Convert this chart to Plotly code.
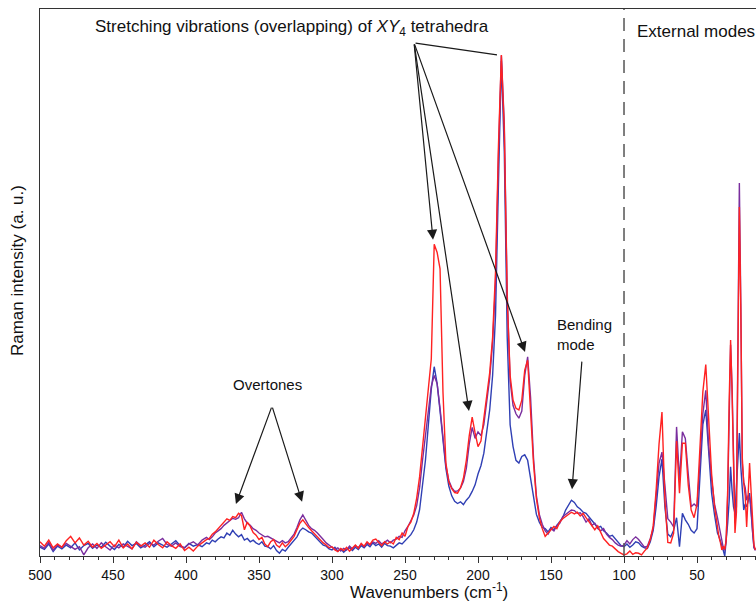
import plotly.graph_objects as go

# ---------------- data ----------------
# wavenumber grid (cm^-1), three segments of different spacing
x_noise = list(range(500, 385, -3))          # 500 ... 386
x_mid = list(range(384, 261, -2))            # 384 ... 262
x_peaks = list(range(260, 35, -2))           # 260 ... 36
x_low = list(range(35, 9, -1))               # 35 ... 10
wavenumber = x_noise + x_mid + x_peaks + x_low

red_noise = [2.6, 1.8, 2.9, 1.5, 2.2, 1.6, 2.8, 3.6, 2.4, 3.3, 2.0, 2.7, 1.6, 2.3, 1.4, 2.0, 2.6, 1.7, 2.9, 1.5,
             2.2, 1.3, 2.5, 1.8, 2.4, 1.6, 2.9, 2.1, 1.5, 2.6, 1.9, 1.4, 2.2, 1.0, 1.6, 0.9, 1.8, 2.4, 3.0]
blue_noise = [1.6, 1.2, 2.2, 0.8, 1.8, 1.3, 2.0, 1.5, 2.4, 1.1, 1.9, 2.3, 1.4, 2.0, 1.6, 2.5, 1.8, 1.2, 2.1, 1.6,
              2.7, 1.9, 2.3, 1.5, 2.0, 2.6, 1.7, 2.4, 2.0, 1.6, 2.2, 2.8, 1.9, 1.5, 2.3, 1.8, 2.1, 1.7, 2.4]
purple_noise = [1.9, 1.4, 2.5, 1.1, 2.0, 1.6, 2.3, 1.8, 1.2, 1.7, 0.2, 1.5, 2.2, 1.4, 2.4, 1.7, 1.1, 2.0, 1.5, 2.2,
                1.8, 1.3, 2.6, 1.9, 1.6, 2.3, 2.0, 2.7, 3.2, 2.1, 1.8, 2.4, 1.7, 1.5, 2.2, 2.6, 2.0, 2.9, 3.4]

red_mid = [3.2, 4.0, 4.4, 5.0, 5.4, 6.2, 6.8, 6.5, 7.2, 7.0, 7.8, 7.4, 4.8, 6.2, 5.4, 4.3, 3.8, 3.0, 3.4, 2.2,
           1.7, 2.6, 3.0, 2.0, 1.6, 2.4, 1.7, 2.2, 2.9, 3.6, 4.8, 6.0, 6.6, 5.8, 5.2, 4.6, 4.0, 3.4, 3.0, 2.4,
           2.0, 1.5, 1.7, 1.1, 0.8, 1.4, 1.0, 1.6, 0.9, 1.5, 2.0, 1.4, 2.3, 1.8, 2.6, 2.1, 2.9, 3.1, 2.4, 1.9,
           2.6, 2.2]
purple_mid = [3.0, 3.5, 4.2, 4.6, 5.0, 5.6, 6.0, 6.5, 6.9, 6.7, 7.0, 8.0, 6.8, 6.0, 5.6, 5.0, 4.7, 4.2, 3.8, 3.5,
              3.6, 3.3, 3.0, 2.6, 2.4, 2.8, 2.4, 2.6, 3.2, 4.0, 5.2, 6.6, 7.5, 6.4, 5.6, 5.0, 4.7, 4.2, 3.5, 3.0,
              2.4, 2.0, 1.7, 1.2, 1.5, 0.9, 1.4, 1.1, 1.8, 1.3, 1.9, 1.5, 2.2, 1.7, 2.4, 2.0, 2.6, 2.3, 2.8, 2.2,
              2.5, 2.9]
blue_mid = [2.2, 2.9, 2.6, 3.1, 3.5, 3.3, 4.2, 3.8, 4.7, 4.0, 3.5, 3.9, 2.9, 3.2, 2.6, 2.9, 2.4, 2.1, 2.6, 1.8,
            1.7, 1.3, 1.9, 1.0, 0.5, 1.2, 0.9, 1.6, 2.2, 3.0, 3.5, 4.6, 5.1, 4.8, 4.4, 4.2, 3.6, 2.9, 2.5, 2.0,
            1.8, 1.3, 1.1, 1.6, 0.9, 1.3, 0.7, 1.2, 1.5, 1.0, 1.6, 1.2, 1.9, 1.5, 2.1, 1.7, 2.4, 1.9, 2.2, 1.6,
            2.3, 1.9]

red_peaks = [2.6, 2.2, 3.4, 3.0, 4.2, 3.6, 5.4, 6.2, 7.8, 10.6, 14.5, 20.0, 25.5, 30.5, 36.0, 57.0, 55.5, 52.5, 30.0, 17.0,
             13.5, 12.3, 11.6, 11.5, 12.5, 14.2, 17.5, 22.0, 25.4, 22.5, 20.0, 21.0, 25.4, 29.0, 33.5, 40.0, 52.0, 75.0, 91.6, 78.0,
             47.0, 33.0, 28.5, 27.0, 26.7, 28.5, 34.0, 35.8, 27.0, 17.0, 10.5, 7.0, 5.0, 3.6, 4.2, 4.8, 5.4, 5.0, 6.2, 6.8,
             7.2, 7.6, 8.0, 7.7, 8.0, 7.3, 7.8, 7.0, 6.2, 5.4, 4.8, 5.5, 4.2, 3.2, 2.6, 2.0, 1.8, 1.2, 0.8, 0.5,
             0.2, 0.4, 0.9, 0.3, 0.6, 0.5, 0.2, 0.9, 1.5, 3.0, 5.5, 12.0, 20.5, 26.3, 10.2, 2.5, 2.4, 4.2, 21.0, 11.5,
             20.6, 20.6, 13.0, 8.4, 7.0, 9.5, 19.4, 30.0, 35.0, 24.0, 15.0, 9.0, 5.0]
purple_peaks = [2.4, 2.9, 3.1, 3.6, 3.4, 4.6, 5.4, 6.6, 7.5, 9.2, 12.5, 17.5, 22.0, 27.5, 31.0, 33.0, 31.5, 27.0, 21.0, 16.5,
                13.8, 12.5, 11.8, 11.9, 12.4, 13.6, 16.0, 20.5, 23.5, 21.5, 22.7, 22.0, 24.0, 28.0, 32.5, 39.0, 50.0, 73.0, 91.5, 79.0,
                48.0, 32.0, 27.5, 26.0, 25.2, 26.5, 33.0, 36.4, 29.0, 18.0, 11.0, 7.6, 5.8, 4.6, 4.0, 5.0, 4.6, 5.6, 6.0, 7.2,
                7.6, 8.0, 8.4, 8.3, 7.8, 7.9, 7.2, 6.2, 6.8, 5.6, 6.0, 5.0, 4.6, 5.0, 4.0, 3.4, 3.0, 2.4, 2.0, 1.8,
                2.0, 2.8, 2.2, 3.0, 3.5, 3.0, 2.2, 1.6, 1.8, 3.2, 5.0, 10.5, 17.0, 19.0, 12.6, 6.8, 6.2, 5.3, 23.6, 13.9,
                22.7, 21.5, 15.0, 9.0, 9.5, 9.0, 17.0, 26.0, 30.3, 20.0, 14.0, 9.5, 7.0]
blue_peaks = [1.8, 1.5, 2.0, 2.4, 2.2, 2.8, 3.3, 3.9, 4.8, 6.2, 8.5, 12.6, 17.5, 24.0, 30.5, 34.6, 31.5, 26.5, 20.5, 16.0,
              12.8, 11.0, 10.0, 9.6, 9.9, 9.4, 10.2, 10.8, 11.8, 13.0, 15.0, 16.5, 18.8, 22.5, 26.7, 33.0, 44.0, 68.0, 90.5, 74.0,
              40.0, 24.0, 20.0, 17.5, 17.0, 18.2, 18.5, 17.5, 14.0, 10.2, 7.6, 6.2, 5.2, 5.0, 4.4, 5.2, 4.8, 5.6, 6.3, 7.0,
              8.4, 9.4, 10.2, 9.8, 9.0, 8.6, 8.0, 7.8, 7.2, 6.4, 5.8, 5.2, 5.4, 4.6, 4.2, 3.6, 3.8, 3.2, 2.6, 1.9,
              1.7, 2.2, 1.6, 2.0, 2.6, 2.4, 1.8, 1.5, 1.4, 2.6, 4.7, 9.0, 14.5, 17.7, 9.0, 4.0, 3.5, 4.7, 7.0, 1.7,
              7.8, 6.6, 5.8, 4.7, 4.2, 5.0, 14.4, 24.0, 26.7, 18.0, 11.5, 7.5, 4.2]

red_low = [3.5, 2.5, 1.1, 1.8, 1.2, 3.0, 12.0, 28.0, 39.5, 30.0, 14.0, 4.2, 8.0, 35.0, 63.8, 45.0, 18.0, 13.3, 11.0, 5.3,
           12.0, 17.0, 12.0, 6.0, 2.0, 1.1]
purple_low = [5.5, 4.0, 2.4, 1.5, 1.0, 3.0, 11.0, 27.0, 38.6, 31.0, 15.0, 6.0, 9.0, 38.0, 68.2, 46.0, 17.0, 13.5, 12.5, 10.2,
              11.0, 10.8, 9.0, 4.5, 1.5, 1.0]
blue_low = [3.6, 2.8, 2.2, 1.0, 0.0, 2.4, 6.0, 10.0, 16.3, 12.0, 9.0, 7.8, 12.0, 18.0, 22.5, 16.3, 12.0, 8.4, 9.5, 9.0,
            10.0, 11.5, 8.0, 4.0, 1.6, 1.2]

red = red_noise + red_mid + red_peaks + red_low
purple = purple_noise + purple_mid + purple_peaks + purple_low
blue = blue_noise + blue_mid + blue_peaks + blue_low

tick_values = [500, 450, 400, 350, 300, 250, 200, 150, 100, 50]
boundary_wavenumber = 100

# ---------------- figure ----------------
FONT = "Liberation Sans, Arial, sans-serif"
fig = go.Figure()
fig.add_trace(go.Scatter(x=wavenumber, y=blue, mode="lines", line=dict(color="#2F3FB4", width=1.4), name="blue"))
fig.add_trace(go.Scatter(x=wavenumber, y=purple, mode="lines", line=dict(color="#7A2E9E", width=1.4), name="purple"))
fig.add_trace(go.Scatter(x=wavenumber, y=red, mode="lines", line=dict(color="#FF2222", width=1.4), name="red"))

fig.add_shape(type="line", x0=boundary_wavenumber, x1=boundary_wavenumber, y0=0, y1=1, xref="x", yref="paper",
              line=dict(color="#555555", width=1.5, dash="13px,8px"))

arrow_common = dict(xref="x", yref="y", axref="x", ayref="y", showarrow=True,
                    arrowcolor="#1a1a1a", arrowwidth=1.2, arrowsize=1.7, text="")
# stretching arrows (tail common point)
tail = (243.8, 93.8)
fig.add_annotation(x=187.0, y=91.6, ax=tail[0], ay=tail[1], arrowhead=0, **arrow_common)
fig.add_annotation(x=230.8, y=57.8, ax=tail[0], ay=tail[1], arrowhead=2, **arrow_common)
fig.add_annotation(x=206.2, y=26.5, ax=tail[0], ay=tail[1], arrowhead=2, **arrow_common)
fig.add_annotation(x=167.8, y=37.3, ax=tail[0], ay=tail[1], arrowhead=2, **arrow_common)
# overtones
fig.add_annotation(x=365.8, y=9.5, ax=341.1, ay=27.4, arrowhead=2, **arrow_common)
fig.add_annotation(x=320.5, y=9.9, ax=341.1, ay=27.4, arrowhead=2, **arrow_common)
# bending mode
fig.add_annotation(x=135.6, y=12.2, ax=128.8, ay=35.8, arrowhead=2, **arrow_common)

text_common = dict(xref="x", yref="y", showarrow=False, font=dict(family=FONT, color="#111111"))
fig.add_annotation(x=327.7, y=96.5, text="Stretching vibrations (overlapping) of <i>XY</i><sub>4</sub> tetrahedra",
                   xanchor="center", yanchor="middle", **{**text_common, "font": dict(family=FONT, size=17, color="#111111")})
fig.add_annotation(x=92.5, y=95.8, text="External modes", xanchor="left", yanchor="middle",
                   **{**text_common, "font": dict(family=FONT, size=17, color="#111111")})
fig.add_annotation(x=344.5, y=31.3, text="Overtones", xanchor="center", yanchor="middle",
                   **{**text_common, "font": dict(family=FONT, size=15, color="#111111")})
fig.add_annotation(x=147.0, y=40.5, text="Bending<br>mode", xanchor="left", yanchor="middle", align="left",
                   **{**text_common, "font": dict(family=FONT, size=15, color="#111111")})

# axis titles
fig.add_annotation(x=0.543, y=-0.064, xref="paper", yref="paper", showarrow=False,
                   text="Wavenumbers (cm<sup>-1</sup>)", xanchor="center", yanchor="middle",
                   font=dict(family=FONT, size=17, color="#111111"))
fig.add_annotation(x=-0.032, y=0.521, xref="paper", yref="paper", showarrow=False, textangle=-90,
                   text="Raman intensity (a. u.)", xanchor="center", yanchor="middle",
                   font=dict(family=FONT, size=17, color="#111111"))

fig.update_layout(
    width=756, height=601,
    margin=dict(l=40, r=0, t=9, b=45),
    paper_bgcolor="white", plot_bgcolor="white",
    showlegend=False,
    font=dict(family=FONT, size=14, color="#111111"),
    xaxis=dict(range=[500, 9.6], showgrid=False, zeroline=False,
               showline=True, linecolor="#333333", linewidth=1.3, mirror=True,
               ticks="outside", ticklen=6, tickwidth=1.2, tickcolor="#333333",
               tickvals=tick_values, tickfont=dict(family=FONT, size=14, color="#111111"),
               minor=dict(dtick=10, tick0=0, ticks="outside", ticklen=3, tickwidth=1, tickcolor="#333333")),
    yaxis=dict(range=[0, 100], showgrid=False, zeroline=False, showticklabels=False, ticks="",
               showline=True, linecolor="#333333", linewidth=1.3),
)

fig.write_html("out.html")
